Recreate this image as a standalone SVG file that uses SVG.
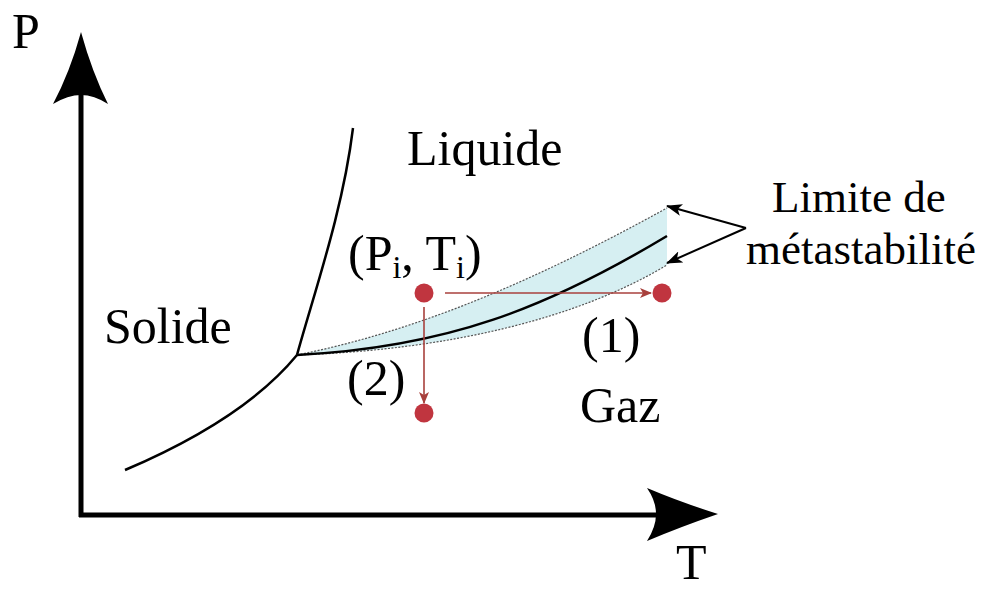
<svg xmlns="http://www.w3.org/2000/svg" width="984" height="592" viewBox="0 0 984 592">
<style>
text{font-family:"Liberation Serif","Times New Roman",serif;font-size:50px;fill:#000}
.sm{font-size:45px}
.curve{fill:none;stroke:#000;stroke-width:2.5}
.dot{fill:#c0353f}
.red{stroke:#a8403c;stroke-width:1.6;fill:none}
.ptr{stroke:#000;stroke-width:2;fill:none}
.lim{fill:none;stroke:#555;stroke-width:1.2;stroke-dasharray:2 1.5}
</style>
<defs>
<marker id="ra" markerWidth="12" markerHeight="10" refX="11" refY="5" orient="auto" markerUnits="userSpaceOnUse">
<path d="M0,0 L12,5 L0,10 L3,5 Z" fill="#a8403c"/>
</marker>
<marker id="ba" markerWidth="16" markerHeight="12" refX="15" refY="6" orient="auto" markerUnits="userSpaceOnUse">
<path d="M0,0 L16,6 L0,12 L4,6 Z" fill="#000"/>
</marker>
</defs>
<g id="axes">
<line x1="81" y1="95" x2="81" y2="517" stroke="#000" stroke-width="5"/>
<line x1="79" y1="515" x2="656" y2="515" stroke="#000" stroke-width="5"/>
<path d="M81,32 Q70,72 53,104 Q68,95 81,95 Q94,95 108,104 Q92,72 81,32 Z" fill="#000"/>
<path d="M718,514 Q680,502 647,488 Q656,501 656,514 Q656,527 647,541 Q680,527 718,514 Z" fill="#000"/>
<text x="12" y="48">P</text>
<text x="676" y="579">T</text>
</g>
<g id="band">
<path d="M297,355 C427,329 547,274 667,208 L667,265 C577,319 447,350 297,355 Z" fill="#d6eff2"/>
<path class="lim" d="M297,355 C427,329 547,274 667,208"/>
<path class="lim" d="M297,355 C447,350 577,319 667,265"/>
</g>
<g id="curves">
<path class="curve" d="M125,470 C200,438 260,400 297,355"/>
<path class="curve" d="M297,355 C315,290 343,210 353,128"/>
<path class="curve" d="M297,355 C447,347.5 547,308 667,236"/>
</g>
<g id="labels">
<text x="407" y="165">Liquide</text>
<text x="104" y="343">Solide</text>
<text x="580" y="422">Gaz</text>
<text x="348" y="270">(P<tspan font-size="32" dy="8">i</tspan><tspan dy="-8">, T</tspan><tspan font-size="32" dy="8">i</tspan><tspan dy="-8">)</tspan></text>
<text x="582" y="352">(1)</text>
<text x="347" y="395">(2)</text>
<text class="sm" x="772" y="212">Limite de</text>
<text class="sm" x="746" y="264">métastabilité</text>
</g>
<g id="connectors">
<line class="red" x1="445" y1="293" x2="651" y2="293" marker-end="url(#ra)"/>
<line class="red" x1="424" y1="307" x2="424" y2="403" marker-end="url(#ra)"/>
<line class="ptr" x1="746" y1="228" x2="667" y2="206" marker-end="url(#ba)"/>
<line class="ptr" x1="746" y1="228" x2="667" y2="263" marker-end="url(#ba)"/>
</g>
<g id="points">
<circle class="dot" cx="424" cy="293" r="9.5"/>
<circle class="dot" cx="662" cy="293" r="9.5"/>
<circle class="dot" cx="424" cy="413" r="9.5"/>
</g>
</svg>
